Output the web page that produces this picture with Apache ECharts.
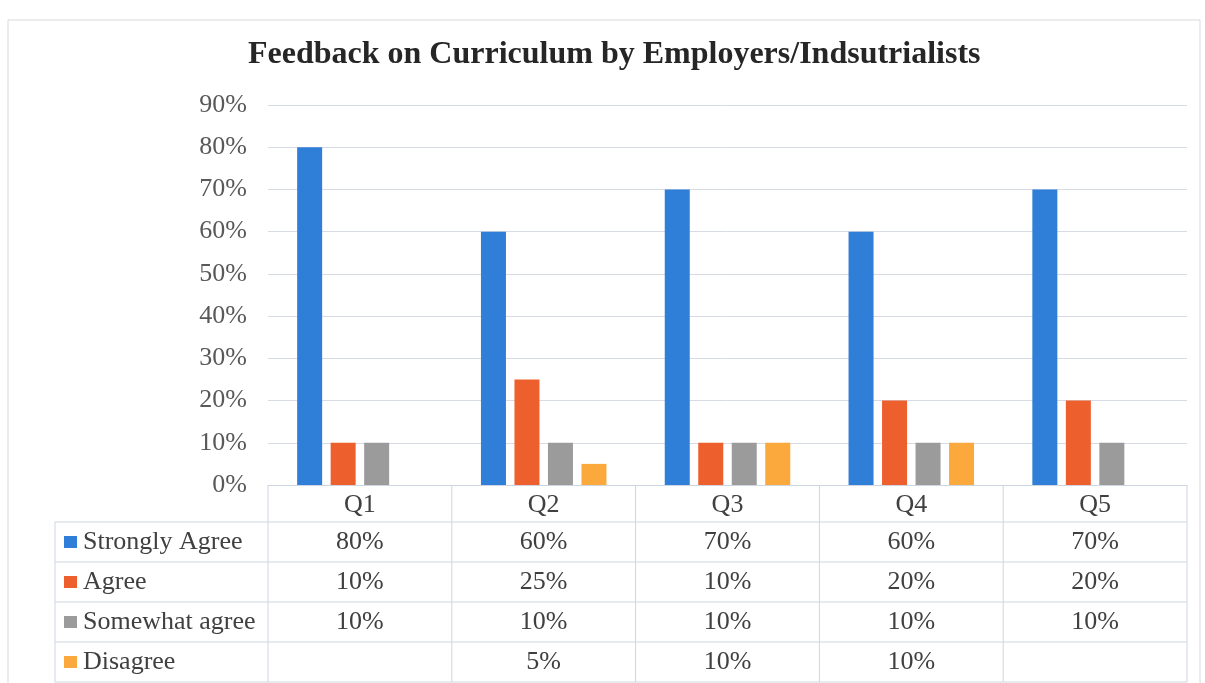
<!DOCTYPE html>
<html><head><meta charset="utf-8">
<script src="https://cdn.jsdelivr.net/npm/echarts@6/dist/echarts.min.js"></script>
<style>html,body{margin:0;padding:0;background:#fff;}#c{width:1205px;height:683px;}</style>
</head><body><div id="c"></div>
<script>
const title = 'Feedback on Curriculum by Employers/Indsutrialists';
const categories = ['Q1', 'Q2', 'Q3', 'Q4', 'Q5'];
const seriesNames = ['Strongly Agree', 'Agree', 'Somewhat agree', 'Disagree'];
const stronglyAgree = [0.80, 0.60, 0.70, 0.60, 0.70];
const agree = [0.10, 0.25, 0.10, 0.20, 0.20];
const somewhatAgree = [0.10, 0.10, 0.10, 0.10, 0.10];
const disagree = [null, 0.05, 0.10, 0.10, null];
const yTicks = [0, 0.1, 0.2, 0.3, 0.4, 0.5, 0.6, 0.7, 0.8, 0.9];

const seriesData = [stronglyAgree, agree, somewhatAgree, disagree];
const colors = ['#2F7ED8', '#EE5F2E', '#9B9B9B', '#FBA93C'];
const FONT = '"Liberation Serif", "DejaVu Serif", serif';
const FS = 26;
const pct = v => Math.round(v * 100) + '%';

const chart = echarts.init(document.getElementById('c'));
const option = {
  animation: false,
  backgroundColor: '#fff',
  title: {
    text: title, left: 243, top: 34,
    textStyle: { fontFamily: FONT, fontWeight: 'bold', fontSize: 32, color: '#262626' }
  },
  grid: { left: 268, right: 18, top: 105, bottom: 198 },
  xAxis: {
    type: 'category', data: categories,
    axisLine: { show: true, lineStyle: { color: '#cfd5e0' } },
    axisTick: { show: false },
    axisLabel: { show: true, margin: 6, fontFamily: FONT, fontSize: FS, color: '#404040', lineHeight: 28, verticalAlign: 'top' }
  },
  yAxis: {
    type: 'value', min: 0, max: 0.9, interval: 0.1,
    axisLabel: { formatter: v => pct(v), fontFamily: FONT, fontSize: FS, color: '#595959', margin: 21 },
    axisLine: { show: false }, axisTick: { show: false },
    splitLine: { lineStyle: { color: '#d6dbe6', width: 1 } }
  },
  series: seriesData.map((d, i) => ({
    name: seriesNames[i], type: 'bar', data: d,
    barWidth: 25, barGap: '34%',
    itemStyle: { color: colors[i] }
  }))
};
chart.setOption(option);

// Data table beneath the plot
const gridBottom = chart.convertToPixel({ yAxisIndex: 0 }, 0);
const x0 = chart.convertToPixel({ xAxisIndex: 0 }, 0);
const x1 = chart.convertToPixel({ xAxisIndex: 0 }, 1);
const band = x1 - x0;
const leftEdge = x0 - band / 2;
const rightEdge = leftEdge + band * categories.length;
const tableLeft = 55;
const headerH = 37, rowH = 40;
const lineColor = '#cfd5e0';
const g = [];
g.push({ type: 'rect', shape: { x: 8, y: 20, width: 1192, height: 680 }, style: { fill: 'none', stroke: '#d9d9d9', lineWidth: 1 }, silent: true });
const tableBottom = gridBottom + headerH + rowH * seriesNames.length;
for (let k = 0; k <= categories.length; k++) {
  const x = leftEdge + band * k;
  g.push({ type: 'line', shape: { x1: x, y1: gridBottom, x2: x, y2: tableBottom }, style: { stroke: lineColor, lineWidth: 1 }, silent: true });
}
g.push({ type: 'line', shape: { x1: tableLeft, y1: gridBottom + headerH, x2: tableLeft, y2: tableBottom }, style: { stroke: lineColor, lineWidth: 1 }, silent: true });
for (let r = 0; r <= seriesNames.length; r++) {
  const y = gridBottom + headerH + rowH * r;
  g.push({ type: 'line', shape: { x1: tableLeft, y1: y, x2: rightEdge, y2: y }, style: { stroke: lineColor, lineWidth: 1 }, silent: true });
}
seriesNames.forEach((name, r) => {
  const cy = gridBottom + headerH + rowH * r + rowH / 2;
  g.push({ type: 'rect', shape: { x: 64, y: cy - 6, width: 13, height: 12 }, style: { fill: colors[r] }, silent: true });
  g.push({ type: 'text', x: 83, y: cy, style: { text: name, fontFamily: FONT, fontSize: FS, fill: '#404040', verticalAlign: 'middle', align: 'left' }, silent: true });
  seriesData[r].forEach((v, c) => {
    if (v == null) return;
    const cx = chart.convertToPixel({ xAxisIndex: 0 }, c);
    g.push({ type: 'text', x: cx, y: cy, style: { text: pct(v), fontFamily: FONT, fontSize: FS, fill: '#404040', verticalAlign: 'middle', align: 'center' }, silent: true });
  });
});
chart.setOption({ graphic: g });
</script></body></html>
